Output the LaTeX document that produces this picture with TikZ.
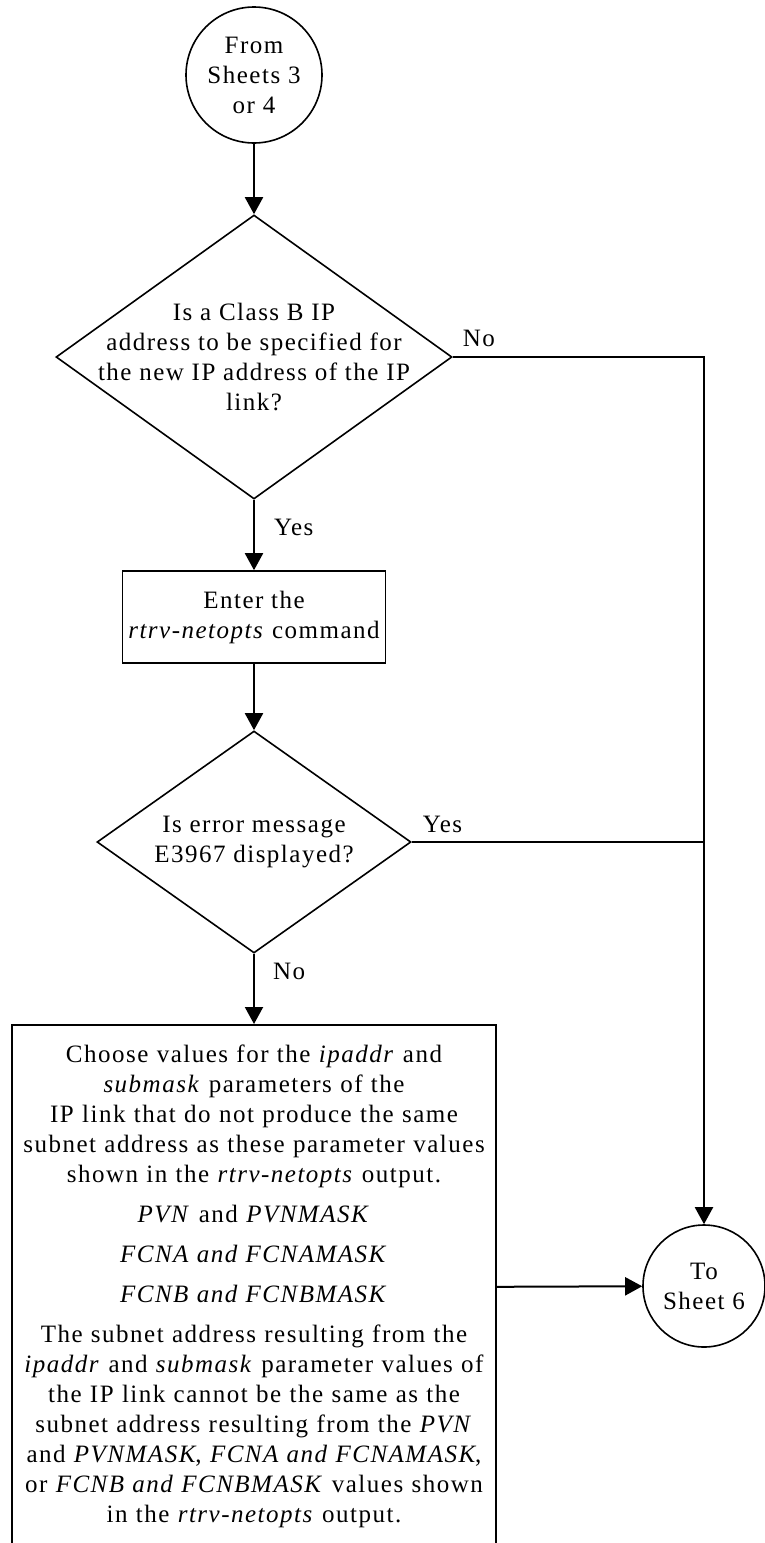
\documentclass[tikz,border=0pt]{standalone}
\usepackage{fontspec}
\setmainfont{Liberation Serif}[LetterSpace=6]
\usetikzlibrary{shapes.geometric,arrows.meta}

\begin{document}
\begin{tikzpicture}[x=0.5pt, y=-0.5pt,
    every node/.style={font=\fontsize{12.5}{15}\selectfont},
    connector/.style={draw, circle, line width=0.8pt, minimum size=68pt, inner sep=0pt, align=center},
    decision/.style={draw, diamond, line width=0.8pt, inner sep=0pt},
    process/.style={draw, rectangle, line width=0.8pt, align=center},
    line/.style={line width=1pt},
    flow/.style={line, -{Triangle[length=8.5pt, width=9pt]}},
    lbl/.style={anchor=base west, inner sep=0pt}]
    \useasboundingbox (0,0) rectangle (765,1543);
    \clip (0,0) rectangle (765,1543);

    \node[connector] (from) at (254,75) {From\\Sheets 3\\or 4};

    \node[decision, minimum width=198pt, minimum height=142pt] (classb) at (254,357) {};
    \node[align=center] (classbtxt) at (classb) {Is a Class B IP\\address to be specified for\\the new IP address of the IP\\link?};

    \node[process, minimum width=122pt, minimum height=46pt, inner xsep=3pt] (netopts) at (254,617) {Enter the\\\textit{rtrv-netopts} command};

    \node[decision, minimum width=157pt, minimum height=111pt] (errmsg) at (254,842) {};
    \node[align=center] (errmsgtxt) at (errmsg) {Is error message\\E3967 displayed?};

    \node[process, anchor=north, minimum width=242pt, minimum height=262pt, text width=240pt, inner xsep=1pt] (choose) at (254,1024) {Choose values for the \textit{ipaddr} and\\
        \textit{submask} parameters of the\\
        IP link that do not produce the same\\
        subnet address as these parameter values\\
        shown in the \textit{rtrv-netopts} output.\\[5pt]
        \textit{PVN} and \textit{PVNMASK}\\[5pt]
        \textit{FCNA and FCNAMASK}\\[5pt]
        \textit{FCNB and FCNBMASK}\\[5pt]
        The subnet address resulting from the\\
        \textit{ipaddr} and \textit{submask} parameter values of\\
        the IP link cannot be the same as the\\
        subnet address resulting from the \textit{PVN}\\
        and \textit{PVNMASK}, \textit{FCNA and FCNAMASK},\\
        or \textit{FCNB and FCNBMASK} values shown\\
        in the \textit{rtrv-netopts} output.};

    \node[connector, minimum size=61pt] (sheet6) at (704,1286) {To\\Sheet 6};
    \coordinate (join) at (errmsg.east -| sheet6.north);

    \draw[flow] (from) -- (classb);
    \draw[flow] (classb.east) -- node[lbl, pos=0, xshift=4.5pt, yshift=5.5pt] {No} (classb.east -| sheet6.north) -- (sheet6);
    \draw[flow] (classb) -- node[lbl, pos=0.5, xshift=9.5pt] {Yes} (netopts);
    \draw[flow] (netopts) -- (errmsg);
    \draw[line] (errmsg.east) -- node[lbl, pos=0, xshift=5pt, yshift=5pt] {Yes} (join);
    \draw[flow] (errmsg) -- node[lbl, pos=0.36, xshift=9pt] {No} (choose);
    \draw[flow] (choose.east) -- (sheet6);
\end{tikzpicture}
\end{document}
